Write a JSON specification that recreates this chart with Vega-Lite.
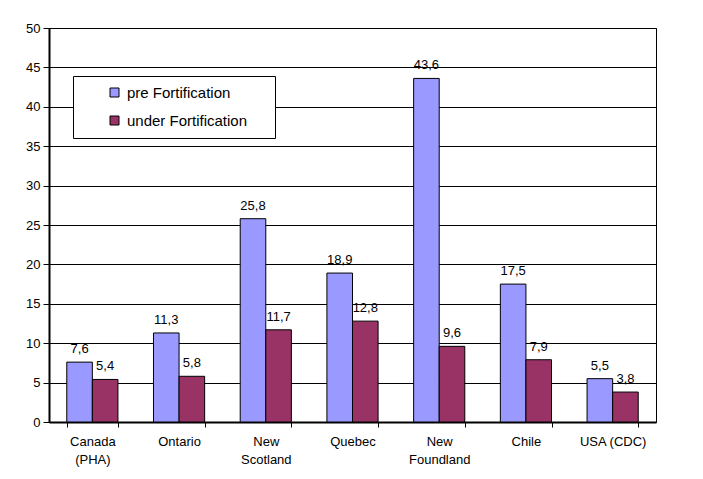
{
  "$schema": "https://vega.github.io/schema/vega-lite/v6.json",
  "autosize": {"type": "none"},
  "padding": {"left": 49, "top": 28, "right": 47, "bottom": 57},
  "width": 607,
  "height": 394,
  "background": "white",
  "config": {
    "font": "Liberation Sans",
    "view": {"stroke": "#000", "strokeWidth": 1},
    "locale": {"number": {"decimal": ",", "thousands": ".", "grouping": [3], "currency": ["", ""]}}
  },
  "data": {
    "values": [
      {"region": "Canada (PHA)", "period": "pre Fortification", "rate": 7.6},
      {"region": "Canada (PHA)", "period": "under Fortification", "rate": 5.4},
      {"region": "Ontario", "period": "pre Fortification", "rate": 11.3},
      {"region": "Ontario", "period": "under Fortification", "rate": 5.8},
      {"region": "New Scotland", "period": "pre Fortification", "rate": 25.8},
      {"region": "New Scotland", "period": "under Fortification", "rate": 11.7},
      {"region": "Quebec", "period": "pre Fortification", "rate": 18.9},
      {"region": "Quebec", "period": "under Fortification", "rate": 12.8},
      {"region": "New Foundland", "period": "pre Fortification", "rate": 43.6},
      {"region": "New Foundland", "period": "under Fortification", "rate": 9.6},
      {"region": "Chile", "period": "pre Fortification", "rate": 17.5},
      {"region": "Chile", "period": "under Fortification", "rate": 7.9},
      {"region": "USA (CDC)", "period": "pre Fortification", "rate": 5.5},
      {"region": "USA (CDC)", "period": "under Fortification", "rate": 3.8}
    ]
  },
  "encoding": {
    "x": {
      "field": "region",
      "type": "nominal",
      "sort": null,
      "scale": {"paddingInner": 0.41, "paddingOuter": 0.205},
      "axis": {
        "title": null,
        "labelAngle": 0,
        "labelFontSize": 13,
        "labelColor": "#000",
        "labelPadding": 8,
        "labelLineHeight": 18,
        "labelExpr": "!isValid(datum.value) ? '' : datum.value == 'USA (CDC)' ? datum.value : split(datum.value, ' ')",
        "tickBand": "extent",
        "tickSize": 5,
        "tickColor": "#000",
        "domainColor": "#000",
        "domainWidth": 2
      }
    },
    "xOffset": {"field": "period", "type": "nominal", "sort": null},
    "y": {
      "field": "rate",
      "type": "quantitative",
      "scale": {"domain": [0, 50]},
      "axis": {
        "title": null,
        "values": [0, 5, 10, 15, 20, 25, 30, 35, 40, 45, 50],
        "labelFontSize": 13,
        "labelColor": "#000",
        "labelPadding": 3,
        "tickSize": 6,
        "tickColor": "#000",
        "domainColor": "#000",
        "domainWidth": 2,
        "grid": true,
        "gridColor": "#000",
        "gridWidth": 1
      }
    }
  },
  "layer": [
    {
      "mark": {"type": "bar", "stroke": "#000", "strokeWidth": 1},
      "encoding": {
        "color": {
          "field": "period",
          "type": "nominal",
          "sort": null,
          "scale": {"range": ["#9999FF", "#993366"]},
          "legend": {
            "title": "\u00a0",
            "titleOrient": "right",
            "titleFontSize": 1,
            "titlePadding": 19,
            "orient": "none",
            "legendX": 24,
            "legendY": 48,
            "padding": 9,
            "symbolOffset": 25,
            "symbolType": "square",
            "symbolSize": 81,
            "symbolStrokeColor": "#000",
            "symbolStrokeWidth": 1,
            "labelFontSize": 15,
            "labelOffset": 5,
            "labelColor": "#000",
            "labelLimit": 300,
            "rowPadding": 12,
            "fillColor": "white",
            "strokeColor": "#000"
          }
        }
      }
    },
    {
      "mark": {"type": "text", "baseline": "alphabetic", "dy": -9, "fontSize": 13, "color": "#000"},
      "encoding": {
        "text": {"field": "rate", "type": "quantitative", "format": ".1f"}
      }
    }
  ]
}
